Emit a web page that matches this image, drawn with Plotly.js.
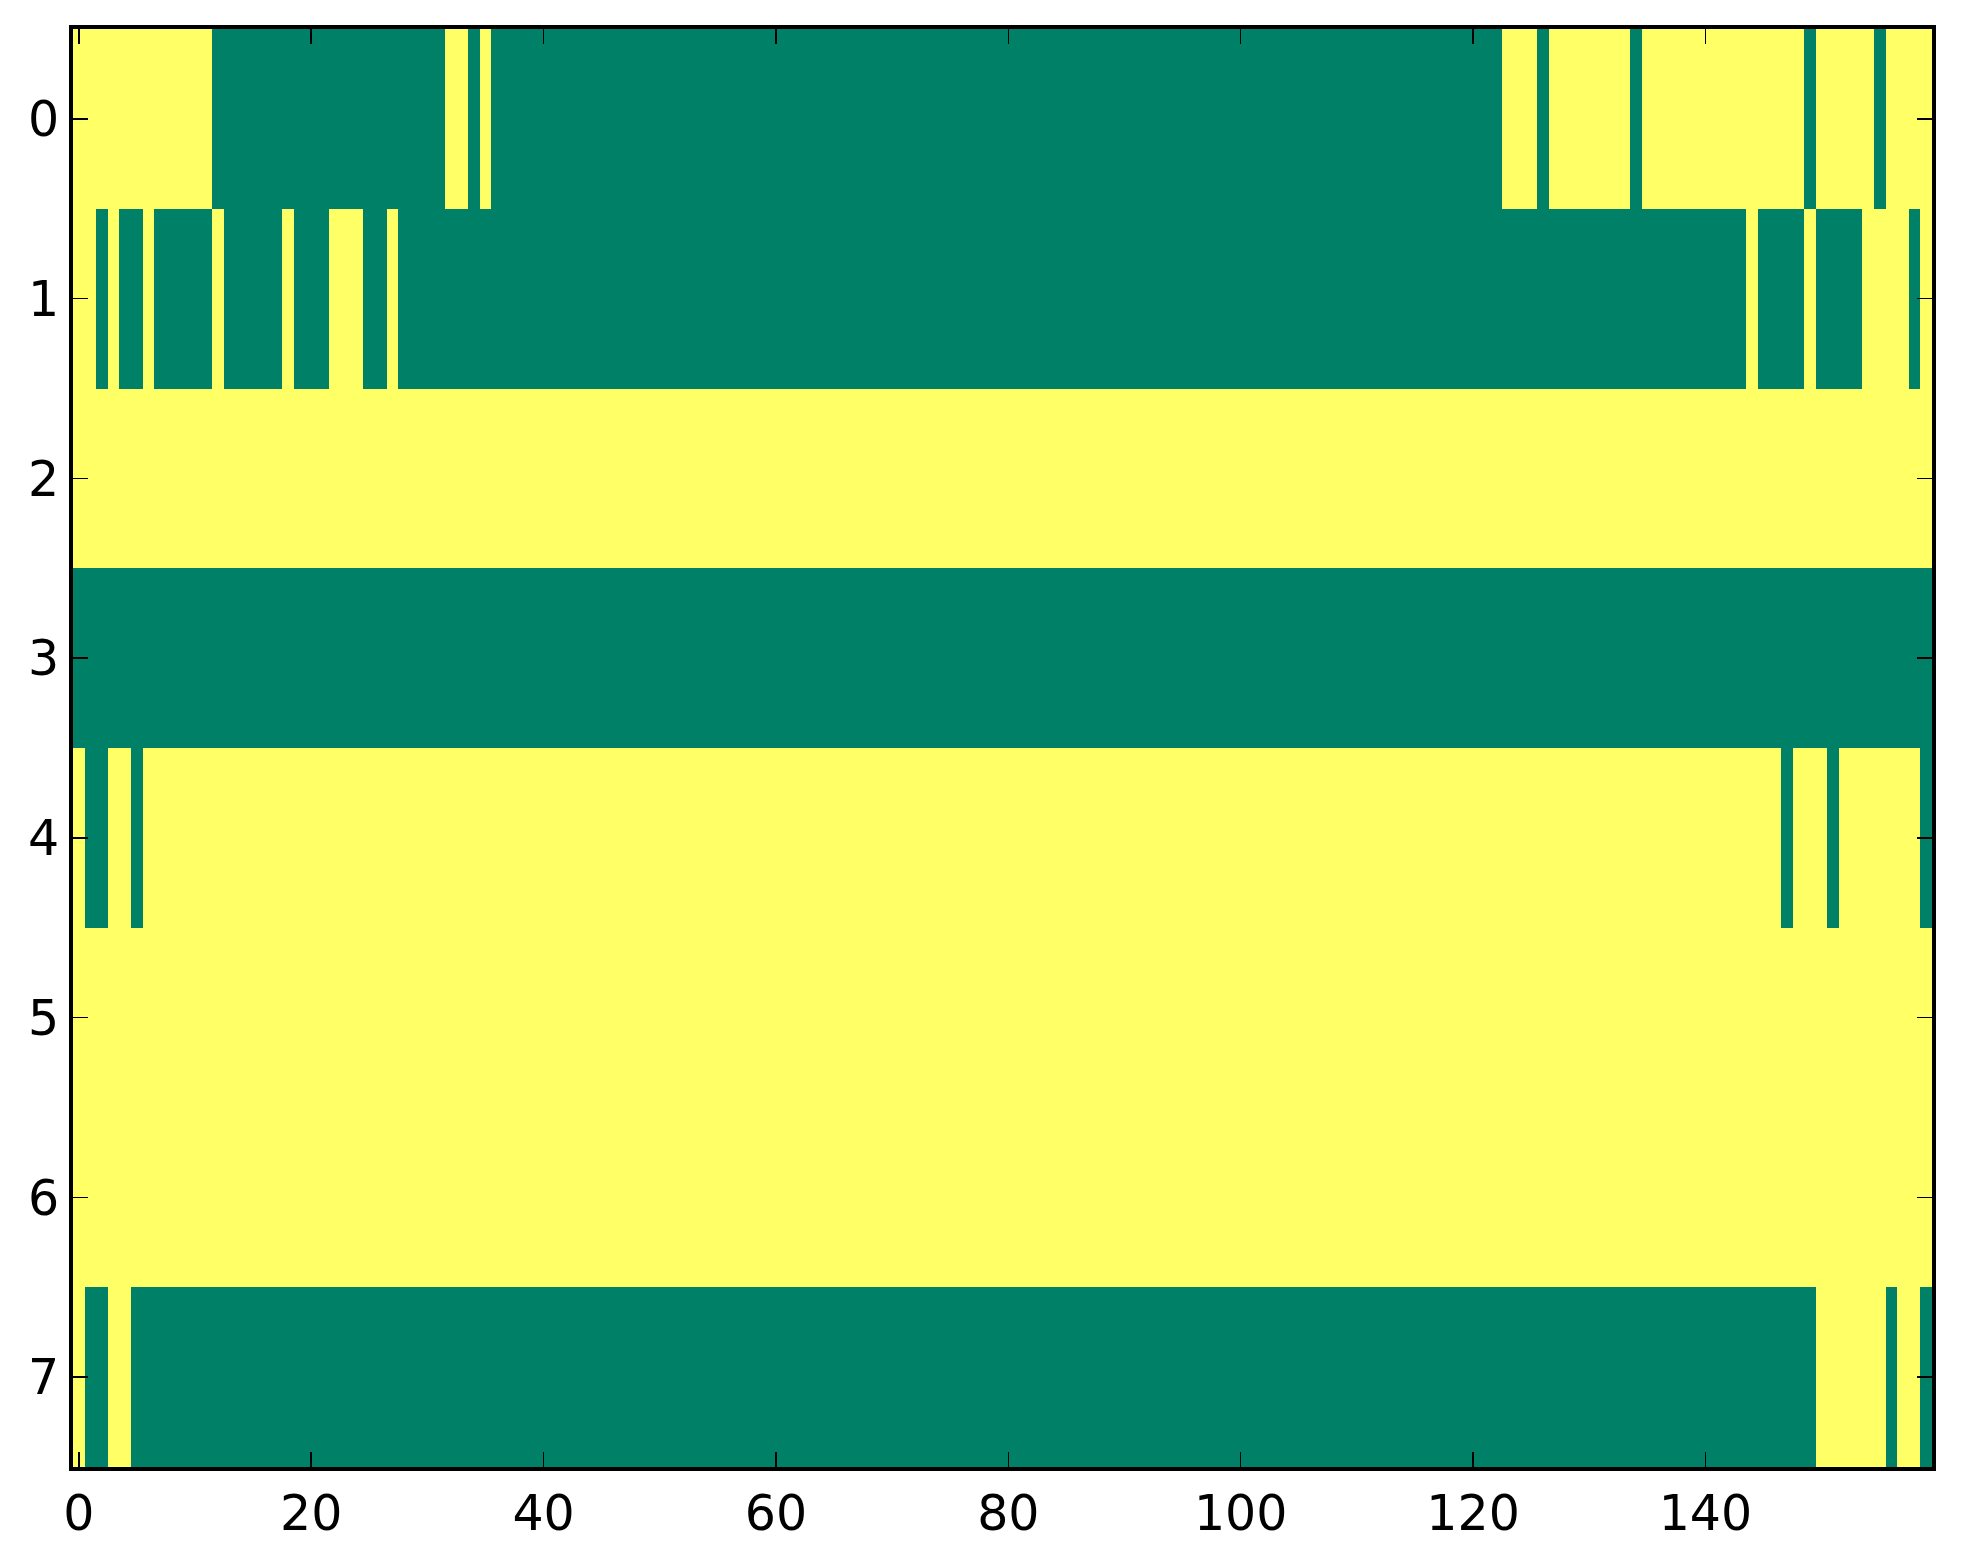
<!DOCTYPE html>
<html>
<head>
<meta charset="utf-8">
<script src="https://cdn.plot.ly/plotly-3.0.1.min.js"></script>
<style>
  html, body { margin: 0; padding: 0; background: #fff; }
  #chart { width: 1963px; height: 1564px; }
</style>
</head>
<body>
<div id="chart"></div>
<script>
"use strict"

// cell values, as runs of [value, count] per row
// 1 = yellow, 0 = green, 160 columns each
const row0 = [[1,12],[0,20],[1,2],[0,1],[1,1],[0,87],[1,3],[0,1],[1,7],[0,1],[1,14],[0,1],[1,5],[0,1],[1,4]]
const row1 = [[1,2],[0,1],[1,1],[0,2],[1,1],[0,5],[1,1],[0,5],[1,1],[0,3],[1,3],[0,2],[1,1],[0,116],[1,1],[0,4],[1,1],[0,4],[1,4],[0,1],[1,1]]
const row2 = [[1,160]]
const row3 = [[0,160]]
const row4 = [[1,1],[0,2],[1,2],[0,1],[1,141],[0,1],[1,3],[0,1],[1,7],[0,1]]
const row5 = [[1,160]]
const row6 = [[1,160]]
const row7 = [[1,1],[0,2],[1,2],[0,145],[1,6],[0,1],[1,2],[0,1]]

const rows = [row0, row1, row2, row3, row4, row5, row6, row7]
const xTicks = [0, 20, 40, 60, 80, 100, 120, 140]
const yTicks = [0, 1, 2, 3, 4, 5, 6, 7]

const expand = runs => runs.reduce((acc, r) => acc.concat(Array(r[1]).fill(r[0])), [])
const z = rows.map(expand)

const trace = {
  z: z,
  type: 'heatmap',
  colorscale: [[0, '#008066'], [1, '#ffff66']],
  zmin: 0,
  zmax: 1,
  showscale: false,
  hoverinfo: 'skip',
}

const axisStyle = {
  showgrid: false,
  zeroline: false,
  showline: true,
  linecolor: '#000',
  linewidth: 4,
  mirror: 'ticks',
  ticks: 'inside',
  ticklen: 15,
  tickwidth: 1.5,
  tickcolor: '#000',
  tickfont: {family: 'DejaVu Sans', size: 49, color: '#000'},
}

const layout = {
  width: 1963,
  height: 1564,
  margin: {l: 73, r: 31, t: 29, b: 97, pad: 0},
  paper_bgcolor: '#fff',
  plot_bgcolor: '#fff',
  showlegend: false,
  xaxis: Object.assign({}, axisStyle, {
    range: [-0.5, 159.5],
    tickmode: 'array',
    tickvals: xTicks,
    ticktext: xTicks.map(String),
  }),
  yaxis: Object.assign({}, axisStyle, {
    range: [7.5, -0.5],
    tickmode: 'array',
    tickvals: yTicks,
    ticktext: yTicks.map(String),
    ticklabelstandoff: 0,
  }),
}

Plotly.newPlot('chart', [trace], layout, {displayModeBar: false, staticPlot: true})
</script>
</body>
</html>
